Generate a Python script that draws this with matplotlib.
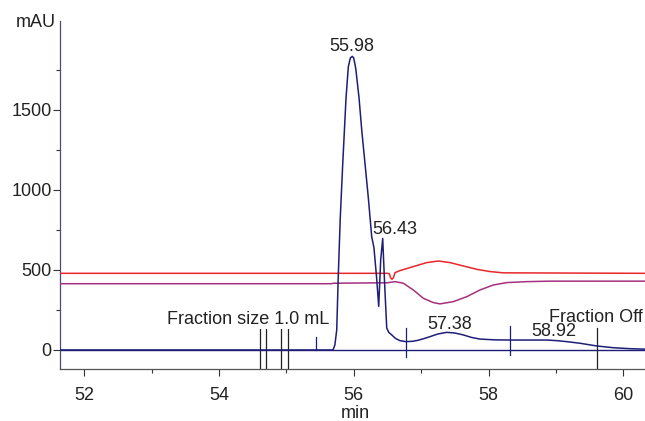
import matplotlib
matplotlib.use("Agg")
import matplotlib.pyplot as plt
from matplotlib.ticker import FixedLocator, MultipleLocator

plt.rcParams['font.family'] = ['Liberation Sans', 'DejaVu Sans']

# UV trace (mAU)
uv_time = [51.642, 55.60, 55.693, 55.72, 55.748, 55.77, 55.80, 55.837, 55.886, 55.92,
           55.95, 55.979, 56.00, 56.03, 56.079, 56.12, 56.168, 56.217, 56.267, 56.30,
           56.34, 56.371, 56.40, 56.43, 56.46, 56.49, 56.52, 56.564, 56.62, 56.687,
           56.776, 56.87, 56.95, 57.05, 57.13, 57.25, 57.38, 57.50, 57.626, 57.75,
           57.874, 58.10, 58.368, 58.60, 58.863, 59.02, 59.16, 59.357, 59.605, 59.85,
           60.10, 60.322]
uv_value = [0, 0, 0, 30, 125, 450, 820, 1163, 1575, 1770,
            1825, 1835, 1825, 1760, 1575, 1370, 1163, 950, 708, 640,
            450, 272, 560, 697, 400, 137, 110, 94, 72, 58,
            52, 54, 60, 72, 83, 100, 110, 106, 94, 78,
            68, 63, 62, 62, 62, 58, 52, 42, 25, 14,
            8, 5]

# Second trace (red)
red_time = [51.642, 56.50, 56.528, 56.548, 56.568, 56.59, 56.613, 56.687, 56.884, 57.083,
            57.255, 57.429, 57.626, 57.825, 58.022, 58.220, 60.322]
red_value = [479, 479, 477, 450, 442, 452, 483, 496, 521, 546,
             556, 546, 525, 504, 490, 482, 479]

# Third trace (purple)
pur_time = [51.642, 55.67, 55.70, 56.50, 56.613, 56.736, 56.884, 57.033, 57.181, 57.280,
            57.478, 57.677, 57.874, 58.071, 58.270, 58.567, 58.912, 60.322]
pur_value = [414, 414, 417, 420, 427, 417, 375, 323, 296, 288,
             302, 333, 375, 406, 421, 427, 430, 430]

# Fraction marks (min)
fraction_marks = [54.610, 54.699, 54.917, 55.021, 59.605]
fraction_top = 140
# Peak / event marks on UV trace
event_marks = [55.441, 56.772, 58.319]
event_bottom = [0, -42, -31]
event_top = [83, 137, 150]

# Labels
peak_labels = ["55.98", "56.43", "57.38", "58.92"]
peak_label_x = [55.975, 56.605, 57.429, 58.972]
peak_label_y = [1869, 725, 131, 90]
y_ticks = [0, 500, 1000, 1500]
y_minor = [250, 750, 1250, 1750]

xlim = (51.642, 60.322)
ylim = (-119, 2056)

fig = plt.figure(figsize=(6.45, 4.21), dpi=100)
ax = fig.add_axes([60/645, 1 - 369/421, 585/645, 348/421])

navy = '#1e1e78'
ax.axhline(0, color=navy, lw=1.0, zorder=2)
ax.plot(red_time, red_value, color='#e8262b', lw=1.1, zorder=3)
ax.plot(pur_time, pur_value, color='#a5307f', lw=1.1, zorder=3)
ax.plot(uv_time, uv_value, color=navy, lw=1.1, zorder=4)

for t in fraction_marks:
    ax.plot([t, t], [ylim[0], fraction_top], color='#222222', lw=0.9, zorder=2)
for t, b, tp in zip(event_marks, event_bottom, event_top):
    ax.plot([t, t], [b, tp], color=navy, lw=0.9, zorder=2)

txt_color = '#222222'
ax.text(53.234, 162, "Fraction size 1.0 mL", ha='left', va='baseline', fontsize=13,
        color=txt_color, zorder=3.5, bbox=dict(facecolor='white', edgecolor='none', pad=0.5))
ax.text(58.897, 177, "Fraction Off", ha='left', va='baseline', fontsize=13,
        color=txt_color, zorder=3.4, clip_on=False)
for s, x, y in zip(peak_labels, peak_label_x, peak_label_y):
    ax.text(x, y, s, ha='center', va='baseline', fontsize=13, color=txt_color, zorder=3.5,
            bbox=dict(facecolor='white', edgecolor='none', pad=0.5))

ax.set_xlim(*xlim)
ax.set_ylim(*ylim)
ax.xaxis.set_major_locator(MultipleLocator(2))
ax.xaxis.set_minor_locator(MultipleLocator(1))
ax.yaxis.set_major_locator(FixedLocator(y_ticks))
ax.yaxis.set_minor_locator(FixedLocator(y_minor))
ax.tick_params(axis='both', which='major', length=5, width=0.8, labelsize=13,
               colors='#333333', labelcolor=txt_color)
ax.tick_params(axis='both', which='minor', length=3, width=0.8, colors='#333333')
ax.tick_params(axis='x', pad=8)
ax.tick_params(axis='y', pad=1)

for side in ['top', 'right']:
    ax.spines[side].set_visible(False)
ax.spines['left'].set_color('#4a4a78')
ax.spines['bottom'].set_color('#555555')
ax.spines['left'].set_linewidth(0.9)
ax.spines['bottom'].set_linewidth(0.9)

ax.text(-0.008, 0.983, "mAU", transform=ax.transAxes, ha='right', va='baseline',
        fontsize=13, color=txt_color)
fig.text(355/645, 3.5/421, "min", ha='center', va='baseline', fontsize=13, color=txt_color)

fig.savefig("out.png", dpi=100)
